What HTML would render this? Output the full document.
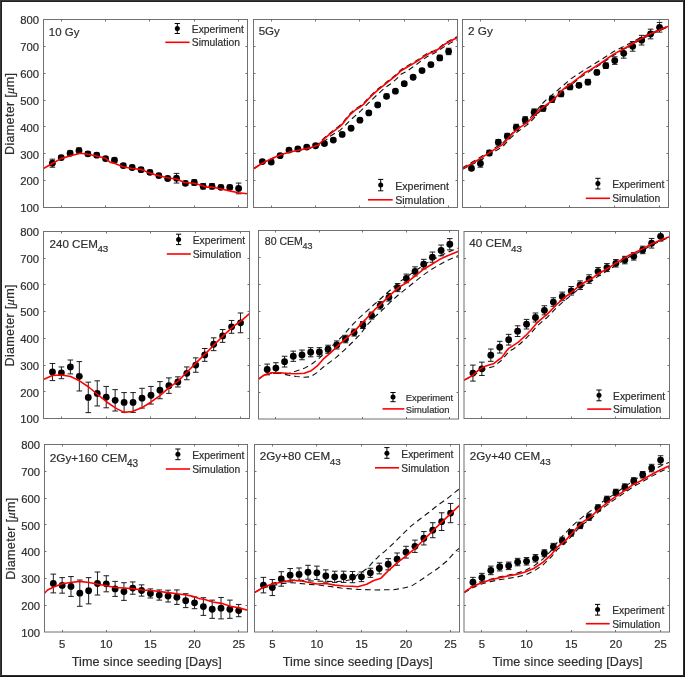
<!DOCTYPE html>
<html><head><meta charset="utf-8"><title>Tumour spheroid growth</title>
<style>
html,body{margin:0;padding:0;background:#fff;}
body{width:685px;height:677px;overflow:hidden;}
svg{display:block;will-change:transform;}
text{font-family:"Liberation Sans", sans-serif;fill:#2e2e2e;stroke:#2e2e2e;stroke-width:0.2px;}
</style></head><body>
<svg width="685" height="677" viewBox="0 0 685 677">
<rect x="0" y="0" width="685" height="677" fill="#fff"/>
<clipPath id="c0"><rect x="43.5" y="19" width="204" height="189"/></clipPath>
<path d="M61.5 207.5 V205.5 M61.5 19.5 V21.5 M105.5 207.5 V205.5 M105.5 19.5 V21.5 M149.5 207.5 V205.5 M149.5 19.5 V21.5 M194.5 207.5 V205.5 M194.5 19.5 V21.5 M238.5 207.5 V205.5 M238.5 19.5 V21.5 M43.5 180.5 H45.5 M247.5 180.5 H245.5 M43.5 153.5 H45.5 M247.5 153.5 H245.5 M43.5 126.5 H45.5 M247.5 126.5 H245.5 M43.5 100.5 H45.5 M247.5 100.5 H245.5 M43.5 73.5 H45.5 M247.5 73.5 H245.5 M43.5 46.5 H45.5 M247.5 46.5 H245.5" stroke="#707070" stroke-width="1" fill="none"/>
<g clip-path="url(#c0)">
<path d="M52.37 159.16 V167.21 M49.57 159.16 H55.17 M49.57 167.21 H55.17 M61.24 155.4 V159.69 M58.44 155.4 H64.04 M58.44 159.69 H64.04 M70.11 151.1 V155.4 M67.31 151.1 H72.91 M67.31 155.4 H72.91 M78.98 147.88 V153.25 M76.18 147.88 H81.78 M76.18 153.25 H81.78 M87.85 151.64 V155.93 M85.05 151.64 H90.65 M85.05 155.93 H90.65 M96.72 152.98 V157.28 M93.92 152.98 H99.52 M93.92 157.28 H99.52 M105.59 156.47 V160.77 M102.79 156.47 H108.39 M102.79 160.77 H108.39 M114.46 158.08 V162.38 M111.66 158.08 H117.26 M111.66 162.38 H117.26 M123.33 163.45 V167.75 M120.53 163.45 H126.13 M120.53 167.75 H126.13 M132.2 165.33 V169.63 M129.4 165.33 H135 M129.4 169.63 H135 M141.07 167.48 V171.78 M138.27 167.48 H143.87 M138.27 171.78 H143.87 M149.93 170.17 V174.47 M147.13 170.17 H152.73 M147.13 174.47 H152.73 M158.8 173.39 V177.69 M156 173.39 H161.6 M156 177.69 H161.6 M167.67 176.35 V180.64 M164.87 176.35 H170.47 M164.87 180.64 H170.47 M176.54 173.39 V183.06 M173.74 173.39 H179.34 M173.74 183.06 H179.34 M185.41 181.18 V185.48 M182.61 181.18 H188.21 M182.61 185.48 H188.21 M194.28 179.84 V185.21 M191.48 179.84 H197.08 M191.48 185.21 H197.08 M203.15 183.6 V188.97 M200.35 183.6 H205.95 M200.35 188.97 H205.95 M212.02 183.6 V188.97 M209.22 183.6 H214.82 M209.22 188.97 H214.82 M220.89 185.21 V189.51 M218.09 185.21 H223.69 M218.09 189.51 H223.69 M229.76 185.21 V189.51 M226.96 185.21 H232.56 M226.96 189.51 H232.56 M238.63 183.06 V193.8 M235.83 183.06 H241.43 M235.83 193.8 H241.43" stroke="#111" stroke-width="0.95" fill="none"/>
<circle cx="52.37" cy="163.19" r="3.4"/>
<circle cx="61.24" cy="157.55" r="3.4"/>
<circle cx="70.11" cy="153.25" r="3.4"/>
<circle cx="78.98" cy="150.56" r="3.4"/>
<circle cx="87.85" cy="153.79" r="3.4"/>
<circle cx="96.72" cy="155.13" r="3.4"/>
<circle cx="105.59" cy="158.62" r="3.4"/>
<circle cx="114.46" cy="160.23" r="3.4"/>
<circle cx="123.33" cy="165.6" r="3.4"/>
<circle cx="132.2" cy="167.48" r="3.4"/>
<circle cx="141.07" cy="169.63" r="3.4"/>
<circle cx="149.93" cy="172.32" r="3.4"/>
<circle cx="158.8" cy="175.54" r="3.4"/>
<circle cx="167.67" cy="178.49" r="3.4"/>
<circle cx="176.54" cy="178.23" r="3.4"/>
<circle cx="185.41" cy="183.33" r="3.4"/>
<circle cx="194.28" cy="182.52" r="3.4"/>
<circle cx="203.15" cy="186.28" r="3.4"/>
<circle cx="212.02" cy="186.28" r="3.4"/>
<circle cx="220.89" cy="187.36" r="3.4"/>
<circle cx="229.76" cy="187.36" r="3.4"/>
<circle cx="238.63" cy="188.43" r="3.4"/>
<path d="M43.5 168.56 L51.9 163.72 L60.9 158.62 L69.8 155.93 L78.5 153.79 L80.5 153.25 L87.8 154.32 L96.7 155.93 L105.5 158.35 L110.4 162.38 L114.3 163.19 L123 166.68 L131.9 168.56 L140.8 169.36 L149.9 173.12 L158.8 175.81 L167.5 177.69 L176.4 179.03 L184.4 182.52 L194 183.19 L202.8 185.75 L205.8 187.09 L211.7 187.09 L220.6 188.7 L229.6 190.85 L238.3 192.73 L247.5 193.8" stroke="#ff0000" stroke-width="1.6" fill="none" stroke-linejoin="round"/>
</g>
<text x="48.8" y="36.3" font-size="11.47">10 Gy</text>
<path d="M177.3 23.5 V33.5 M174.7 23.5 H179.9 M174.7 33.5 H179.9" stroke="#000" stroke-width="1" fill="none"/>
<circle cx="177.3" cy="28.4" r="2.5"/>
<path d="M165.3 42.3 H189.6" stroke="#ff0000" stroke-width="1.6"/>
<text x="191.8" y="32.9" font-size="10.3">Experiment</text>
<text x="191.8" y="46" font-size="10.3">Simulation</text>
<text x="39" y="212.3" font-size="11.3" text-anchor="end">100</text>
<text x="39" y="185.44" font-size="11.3" text-anchor="end">200</text>
<text x="39" y="158.59" font-size="11.3" text-anchor="end">300</text>
<text x="39" y="131.73" font-size="11.3" text-anchor="end">400</text>
<text x="39" y="104.87" font-size="11.3" text-anchor="end">500</text>
<text x="39" y="78.01" font-size="11.3" text-anchor="end">600</text>
<text x="39" y="51.16" font-size="11.3" text-anchor="end">700</text>
<text x="39" y="24.3" font-size="11.3" text-anchor="end">800</text>
<text transform="translate(14.3 155) rotate(-90)" font-size="12.6" textLength="82" lengthAdjust="spacing">Diameter [<tspan font-family="Liberation Serif" font-style="italic">&#956;</tspan>m]</text>
<rect x="43.5" y="19.5" width="204" height="188" fill="none" stroke="#707070" stroke-width="1"/>
<clipPath id="c1"><rect x="253.5" y="19" width="204" height="189"/></clipPath>
<path d="M271.5 207.5 V205.5 M271.5 19.5 V21.5 M315.5 207.5 V205.5 M315.5 19.5 V21.5 M359.5 207.5 V205.5 M359.5 19.5 V21.5 M404.5 207.5 V205.5 M404.5 19.5 V21.5 M448.5 207.5 V205.5 M448.5 19.5 V21.5 M253.5 180.5 H255.5 M457.5 180.5 H455.5 M253.5 153.5 H255.5 M457.5 153.5 H455.5 M253.5 126.5 H255.5 M457.5 126.5 H455.5 M253.5 100.5 H255.5 M457.5 100.5 H455.5 M253.5 73.5 H255.5 M457.5 73.5 H455.5 M253.5 46.5 H255.5 M457.5 46.5 H455.5" stroke="#707070" stroke-width="1" fill="none"/>
<g clip-path="url(#c1)">
<path d="M262.37 159.96 V163.19 M259.57 159.96 H265.17 M259.57 163.19 H265.17 M271.24 160.23 V163.99 M268.44 160.23 H274.04 M268.44 163.99 H274.04 M280.11 154.05 V157.28 M277.31 154.05 H282.91 M277.31 157.28 H282.91 M288.98 148.41 V151.64 M286.18 148.41 H291.78 M286.18 151.64 H291.78 M297.85 147.34 V150.56 M295.05 147.34 H300.65 M295.05 150.56 H300.65 M306.72 145.46 V148.68 M303.92 145.46 H309.52 M303.92 148.68 H309.52 M315.59 144.12 V147.34 M312.79 144.12 H318.39 M312.79 147.34 H318.39 M324.46 141.97 V145.19 M321.66 141.97 H327.26 M321.66 145.19 H327.26 M333.33 138.48 V141.7 M330.53 138.48 H336.13 M330.53 141.7 H336.13 M342.2 132.84 V136.06 M339.4 132.84 H345 M339.4 136.06 H345 M351.07 126.66 V129.88 M348.27 126.66 H353.87 M348.27 129.88 H353.87 M359.93 118.6 V121.83 M357.13 118.6 H362.73 M357.13 121.83 H362.73 M368.8 111.35 V114.57 M366 111.35 H371.6 M366 114.57 H371.6 M377.67 103.29 V106.52 M374.87 103.29 H380.47 M374.87 106.52 H380.47 M386.54 94.16 V98.46 M383.74 94.16 H389.34 M383.74 98.46 H389.34 M395.41 89.6 V92.82 M392.61 89.6 H398.21 M392.61 92.82 H398.21 M404.28 82.08 V85.3 M401.48 82.08 H407.08 M401.48 85.3 H407.08 M413.15 75.63 V78.85 M410.35 75.63 H415.95 M410.35 78.85 H415.95 M422.02 68.92 V72.14 M419.22 68.92 H424.82 M419.22 72.14 H424.82 M430.89 62.47 V66.77 M428.09 62.47 H433.69 M428.09 66.77 H433.69 M439.76 55.22 V60.59 M436.96 55.22 H442.56 M436.96 60.59 H442.56 M448.63 48.24 V54.68 M445.83 48.24 H451.43 M445.83 54.68 H451.43" stroke="#111" stroke-width="0.95" fill="none"/>
<circle cx="262.37" cy="161.57" r="3.4"/>
<circle cx="271.24" cy="162.11" r="3.4"/>
<circle cx="280.11" cy="155.67" r="3.4"/>
<circle cx="288.98" cy="150.03" r="3.4"/>
<circle cx="297.85" cy="148.95" r="3.4"/>
<circle cx="306.72" cy="147.07" r="3.4"/>
<circle cx="315.59" cy="145.73" r="3.4"/>
<circle cx="324.46" cy="143.58" r="3.4"/>
<circle cx="333.33" cy="140.09" r="3.4"/>
<circle cx="342.2" cy="134.45" r="3.4"/>
<circle cx="351.07" cy="128.27" r="3.4"/>
<circle cx="359.93" cy="120.21" r="3.4"/>
<circle cx="368.8" cy="112.96" r="3.4"/>
<circle cx="377.67" cy="104.91" r="3.4"/>
<circle cx="386.54" cy="96.31" r="3.4"/>
<circle cx="395.41" cy="91.21" r="3.4"/>
<circle cx="404.28" cy="83.69" r="3.4"/>
<circle cx="413.15" cy="77.24" r="3.4"/>
<circle cx="422.02" cy="70.53" r="3.4"/>
<circle cx="430.89" cy="64.62" r="3.4"/>
<circle cx="439.76" cy="57.91" r="3.4"/>
<circle cx="448.63" cy="51.46" r="3.4"/>
<path d="M253.5 168.83 L261.5 163.72 L271 158.89 L280.5 154.86 L290 151.91 L299.4 150.03 L309 148.15 L318.4 143.85 L325 137.13 L330.1 132.84 L335.2 129.08 L340.3 125.05 L343.4 121.83 L346.5 117.8 L350.5 113.23 L355.7 108.67 L359.7 106.25 L363.8 103.03 L367.9 98.46 L373 93.36 L378.1 88.79 L385 83.42 L390.5 78.85 L396 74.56 L401.4 69.45 L406.9 66.23 L412.4 63.01 L417.8 59.79 L423.3 56.03 L428.8 52.53 L434.3 50.65 L439.7 47.16 L445.2 42.87 L450.7 39.91 L457.5 36.42" stroke="#111" stroke-width="1.1" fill="none" stroke-dasharray="5.6 3.8"/>
<path d="M253.5 168.83 L261.5 163.72 L271 158.89 L280.5 154.86 L290 151.91 L299.4 150.03 L309 148.68 L318.4 145.73 L325 140.89 L330.1 136.33 L335.2 133.11 L340.3 130.15 L345.4 125.05 L350.5 119.95 L355.7 115.38 L360.8 110.81 L365.9 105.71 L371 100.61 L376.1 95.77 L381.2 91.21 L385 87.72 L390.5 83.96 L396 79.39 L401.4 74.02 L406.9 71.33 L412.4 67.31 L417.8 63.55 L423.3 59.25 L428.8 55.49 L434.3 53.34 L439.7 49.85 L445.2 46.09 L450.7 42.87 L457.5 39.64" stroke="#111" stroke-width="1.1" fill="none" stroke-dasharray="5.6 3.8"/>
<path d="M253.5 168.83 L261.5 163.72 L271 158.89 L280.5 154.86 L290 151.91 L299.4 150.03 L309 148.15 L318.4 144.92 L325 138.21 L330.1 133.91 L335.2 130.15 L340.3 126.12 L343.4 122.9 L346.5 118.87 L350.5 114.31 L355.7 109.74 L359.7 107.32 L363.8 104.1 L367.9 99.53 L373 94.43 L378.1 89.87 L385 84.49 L390.5 79.93 L396 75.63 L401.4 70.53 L406.9 67.31 L412.4 64.08 L417.8 60.86 L423.3 57.1 L428.8 53.61 L434.3 51.73 L439.7 48.24 L445.2 43.94 L450.7 40.99 L457.5 37.49" stroke="#ff0000" stroke-width="1.6" fill="none" stroke-linejoin="round"/>
</g>
<text x="258.7" y="35.1" font-size="11.57">5Gy</text>
<path d="M380.7 179.4 V190.8 M378.1 179.4 H383.3 M378.1 190.8 H383.3" stroke="#000" stroke-width="1" fill="none"/>
<circle cx="380.7" cy="185.1" r="2.5"/>
<path d="M368 199.8 H392.7" stroke="#ff0000" stroke-width="1.6"/>
<text x="395.2" y="189.8" font-size="10.61">Experiment</text>
<text x="395.2" y="204.1" font-size="10.61">Simulation</text>
<rect x="253.5" y="19.5" width="204" height="188" fill="none" stroke="#707070" stroke-width="1"/>
<clipPath id="c2"><rect x="462.5" y="19" width="206" height="189"/></clipPath>
<path d="M480.5 207.5 V205.5 M480.5 19.5 V21.5 M525.5 207.5 V205.5 M525.5 19.5 V21.5 M569.5 207.5 V205.5 M569.5 19.5 V21.5 M614.5 207.5 V205.5 M614.5 19.5 V21.5 M659.5 207.5 V205.5 M659.5 19.5 V21.5 M462.5 180.5 H464.5 M668.5 180.5 H666.5 M462.5 153.5 H464.5 M668.5 153.5 H666.5 M462.5 126.5 H464.5 M668.5 126.5 H666.5 M462.5 100.5 H464.5 M668.5 100.5 H666.5 M462.5 73.5 H464.5 M668.5 73.5 H666.5 M462.5 46.5 H464.5 M668.5 46.5 H666.5" stroke="#707070" stroke-width="1" fill="none"/>
<g clip-path="url(#c2)">
<path d="M471.46 166.14 V170.44 M468.66 166.14 H474.26 M468.66 170.44 H474.26 M480.41 159.69 V167.21 M477.61 159.69 H483.21 M477.61 167.21 H483.21 M489.37 150.29 V155.67 M486.57 150.29 H492.17 M486.57 155.67 H492.17 M498.33 139.55 V144.92 M495.53 139.55 H501.13 M495.53 144.92 H501.13 M507.28 133.37 V138.75 M504.48 133.37 H510.08 M504.48 138.75 H510.08 M516.24 124.24 V130.69 M513.44 124.24 H519.04 M513.44 130.69 H519.04 M525.2 116.72 V123.17 M522.4 116.72 H528 M522.4 123.17 H528 M534.15 108.93 V115.38 M531.35 108.93 H536.95 M531.35 115.38 H536.95 M543.11 105.71 V111.08 M540.31 105.71 H545.91 M540.31 111.08 H545.91 M552.07 96.04 V102.49 M549.27 96.04 H554.87 M549.27 102.49 H554.87 M561.02 91.21 V96.58 M558.22 91.21 H563.82 M558.22 96.58 H563.82 M569.98 84.23 V89.6 M567.18 84.23 H572.78 M567.18 89.6 H572.78 M578.93 83.15 V87.45 M576.13 83.15 H581.73 M576.13 87.45 H581.73 M587.89 79.39 V84.76 M585.09 79.39 H590.69 M585.09 84.76 H590.69 M596.85 70.26 V74.56 M594.05 70.26 H599.65 M594.05 74.56 H599.65 M605.8 63.01 V68.38 M603 63.01 H608.6 M603 68.38 H608.6 M614.76 56.83 V64.35 M611.96 56.83 H617.56 M611.96 64.35 H617.56 M623.72 48.51 V58.17 M620.92 48.51 H626.52 M620.92 58.17 H626.52 M632.67 41.52 V51.19 M629.87 41.52 H635.47 M629.87 51.19 H635.47 M641.63 35.35 V45.01 M638.83 35.35 H644.43 M638.83 45.01 H644.43 M650.59 29.17 V38.84 M647.79 29.17 H653.39 M647.79 38.84 H653.39 M659.54 22.45 V32.12 M656.74 22.45 H662.34 M656.74 32.12 H662.34" stroke="#111" stroke-width="0.95" fill="none"/>
<circle cx="471.46" cy="168.29" r="3.4"/>
<circle cx="480.41" cy="163.45" r="3.4"/>
<circle cx="489.37" cy="152.98" r="3.4"/>
<circle cx="498.33" cy="142.24" r="3.4"/>
<circle cx="507.28" cy="136.06" r="3.4"/>
<circle cx="516.24" cy="127.47" r="3.4"/>
<circle cx="525.2" cy="119.95" r="3.4"/>
<circle cx="534.15" cy="112.16" r="3.4"/>
<circle cx="543.11" cy="108.4" r="3.4"/>
<circle cx="552.07" cy="99.27" r="3.4"/>
<circle cx="561.02" cy="93.89" r="3.4"/>
<circle cx="569.98" cy="86.91" r="3.4"/>
<circle cx="578.93" cy="85.3" r="3.4"/>
<circle cx="587.89" cy="82.08" r="3.4"/>
<circle cx="596.85" cy="72.41" r="3.4"/>
<circle cx="605.8" cy="65.69" r="3.4"/>
<circle cx="614.76" cy="60.59" r="3.4"/>
<circle cx="623.72" cy="53.34" r="3.4"/>
<circle cx="632.67" cy="46.36" r="3.4"/>
<circle cx="641.63" cy="40.18" r="3.4"/>
<circle cx="650.59" cy="34" r="3.4"/>
<circle cx="659.54" cy="27.29" r="3.4"/>
<path d="M462.5 167.75 L478.4 158.35 L490.7 150.56 L502.9 142.77 L510.9 134.45 L522.7 124.24 L533.4 114.84 L540.5 105.44 L546.4 99.53 L552.3 94.7 L564.1 84.76 L570 79.39 L578.3 74.02 L584.2 69.99 L588.8 67.31 L601 59.79 L613.3 51.73 L625.5 45.55 L637.8 39.11 L650.1 33.47 L668.5 25.95" stroke="#111" stroke-width="1.1" fill="none" stroke-dasharray="5.6 3.8"/>
<path d="M462.5 169.36 L478.4 161.31 L490.7 153.79 L502.9 146.53 L510.9 137.67 L516.8 132.3 L522.7 128 L528.6 123.71 L533.4 118.87 L538.1 112.96 L542.8 108.93 L547.6 105.17 L552.3 101.68 L557 97.12 L561.7 91.75 L566.5 87.72 L571.2 84.76 L575.9 81 L580.6 77.24 L588.8 71.87 L601 64.08 L613.3 55.49 L625.5 48.77 L637.8 41.25 L650.1 34.81 L668.5 26.75" stroke="#111" stroke-width="1.1" fill="none" stroke-dasharray="5.6 3.8"/>
<path d="M462.5 168.83 L478.4 159.69 L490.7 151.91 L502.9 144.39 L510.9 135.25 L516.8 129.61 L522.7 125.59 L528.6 121.29 L533.4 116.72 L538.1 110.81 L542.8 107.32 L547.6 103.83 L552.3 100.61 L557 96.04 L561.7 90.67 L566.5 86.64 L571.2 83.69 L575.9 79.93 L580.6 76.44 L585 72.41 L588.8 70.8 L601 63.01 L613.3 54.41 L625.5 47.7 L637.8 40.45 L650.1 34 L668.5 26.21" stroke="#ff0000" stroke-width="1.6" fill="none" stroke-linejoin="round"/>
</g>
<text x="468" y="34.5" font-size="11.77">2 Gy</text>
<path d="M597.9 178.3 V189 M595.3 178.3 H600.5 M595.3 189 H600.5" stroke="#000" stroke-width="1" fill="none"/>
<circle cx="597.9" cy="183.6" r="2.5"/>
<path d="M585.8 198.3 H610" stroke="#ff0000" stroke-width="1.6"/>
<text x="612.2" y="188.4" font-size="10.3">Experiment</text>
<text x="612.2" y="202.3" font-size="10.3">Simulation</text>
<rect x="462.5" y="19.5" width="206" height="188" fill="none" stroke="#707070" stroke-width="1"/>
<clipPath id="c3"><rect x="43.5" y="231" width="206" height="188"/></clipPath>
<path d="M61.5 418.5 V416.5 M61.5 231.5 V233.5 M106.5 418.5 V416.5 M106.5 231.5 V233.5 M150.5 418.5 V416.5 M150.5 231.5 V233.5 M195.5 418.5 V416.5 M195.5 231.5 V233.5 M240.5 418.5 V416.5 M240.5 231.5 V233.5 M43.5 391.5 H45.5 M249.5 391.5 H247.5 M43.5 365.5 H45.5 M249.5 365.5 H247.5 M43.5 338.5 H45.5 M249.5 338.5 H247.5 M43.5 311.5 H45.5 M249.5 311.5 H247.5 M43.5 284.5 H45.5 M249.5 284.5 H247.5 M43.5 258.5 H45.5 M249.5 258.5 H247.5" stroke="#707070" stroke-width="1" fill="none"/>
<g clip-path="url(#c3)">
<path d="M52.46 363.47 V380.57 M49.66 363.47 H55.26 M49.66 380.57 H55.26 M61.41 366.94 V378.7 M58.61 366.94 H64.21 M58.61 378.7 H64.21 M70.37 360 V373.89 M67.57 360 H73.17 M67.57 373.89 H73.17 M79.33 361.6 V390.98 M76.53 361.6 H82.13 M76.53 390.98 H82.13 M88.28 382.17 V412.62 M85.48 382.17 H91.08 M85.48 412.62 H91.08 M97.24 380.83 V405.94 M94.44 380.83 H100.04 M94.44 405.94 H100.04 M106.2 386.44 V407.81 M103.4 386.44 H109 M103.4 407.81 H109 M115.15 389.65 V411.02 M112.35 389.65 H117.95 M112.35 411.02 H117.95 M124.11 392.59 V412.36 M121.31 392.59 H126.91 M121.31 412.36 H126.91 M133.07 392.59 V412.36 M130.27 392.59 H135.87 M130.27 412.36 H135.87 M142.02 388.31 V408.08 M139.22 388.31 H144.82 M139.22 408.08 H144.82 M150.98 386.44 V404.07 M148.18 386.44 H153.78 M148.18 404.07 H153.78 M159.93 381.63 V398.73 M157.13 381.63 H162.73 M157.13 398.73 H162.73 M168.89 377.89 V393.39 M166.09 377.89 H171.69 M166.09 393.39 H171.69 M177.85 376.83 V386.98 M175.05 376.83 H180.65 M175.05 386.98 H180.65 M186.8 366.94 V379.76 M184 366.94 H189.6 M184 379.76 H189.6 M195.76 357.86 V372.28 M192.96 357.86 H198.56 M192.96 372.28 H198.56 M204.72 348.51 V361.33 M201.92 348.51 H207.52 M201.92 361.33 H207.52 M213.67 337.82 V350.65 M210.87 337.82 H216.47 M210.87 350.65 H216.47 M222.63 329.54 V342.36 M219.83 329.54 H225.43 M219.83 342.36 H225.43 M231.59 320.46 V333.28 M228.79 320.46 H234.39 M228.79 333.28 H234.39 M240.54 312.98 V332.75 M237.74 312.98 H243.34 M237.74 332.75 H243.34" stroke="#111" stroke-width="0.95" fill="none"/>
<circle cx="52.46" cy="372.02" r="3.4"/>
<circle cx="61.41" cy="372.82" r="3.4"/>
<circle cx="70.37" cy="366.94" r="3.4"/>
<circle cx="79.33" cy="376.29" r="3.4"/>
<circle cx="88.28" cy="397.4" r="3.4"/>
<circle cx="97.24" cy="393.39" r="3.4"/>
<circle cx="106.2" cy="397.13" r="3.4"/>
<circle cx="115.15" cy="400.33" r="3.4"/>
<circle cx="124.11" cy="402.47" r="3.4"/>
<circle cx="133.07" cy="402.47" r="3.4"/>
<circle cx="142.02" cy="398.2" r="3.4"/>
<circle cx="150.98" cy="395.26" r="3.4"/>
<circle cx="159.93" cy="390.18" r="3.4"/>
<circle cx="168.89" cy="385.64" r="3.4"/>
<circle cx="177.85" cy="381.9" r="3.4"/>
<circle cx="186.8" cy="373.35" r="3.4"/>
<circle cx="195.76" cy="365.07" r="3.4"/>
<circle cx="204.72" cy="354.92" r="3.4"/>
<circle cx="213.67" cy="344.23" r="3.4"/>
<circle cx="222.63" cy="335.95" r="3.4"/>
<circle cx="231.59" cy="326.87" r="3.4"/>
<circle cx="240.54" cy="322.86" r="3.4"/>
<path d="M43.5 379.5 L52.3 375.49 L61.5 374.96 L70.7 376.56 L79.9 381.1 L89 387.24 L98.2 394.99 L107.4 402.47 L116.6 408.62 L124.3 412.36 L132 411.55 L141.2 408.08 L150.4 402.47 L159.6 395.79 L168.8 387.78 L178 381.1 L187.1 372.02 L196.3 362.67 L205.5 353.58 L214.7 344.23 L223.9 335.15 L233.1 326.6 L242.3 319.92 L249.5 313.51" stroke="#ff0000" stroke-width="1.6" fill="none" stroke-linejoin="round"/>
</g>
<text x="49.6" y="247.5" font-size="11.57">240 CEM<tspan dx="-0.4" dy="4.86" font-size="9.84">43</tspan></text>
<path d="M178.6 234.2 V244.6 M176 234.2 H181.2 M176 244.6 H181.2" stroke="#000" stroke-width="1" fill="none"/>
<circle cx="178.6" cy="239.6" r="2.5"/>
<path d="M166.8 254 H190.8" stroke="#ff0000" stroke-width="1.6"/>
<text x="192.7" y="243.9" font-size="10.4">Experiment</text>
<text x="192.7" y="257.8" font-size="10.4">Simulation</text>
<text x="39" y="423.3" font-size="11.3" text-anchor="end">100</text>
<text x="39" y="396.59" font-size="11.3" text-anchor="end">200</text>
<text x="39" y="369.87" font-size="11.3" text-anchor="end">300</text>
<text x="39" y="343.16" font-size="11.3" text-anchor="end">400</text>
<text x="39" y="316.44" font-size="11.3" text-anchor="end">500</text>
<text x="39" y="289.73" font-size="11.3" text-anchor="end">600</text>
<text x="39" y="263.01" font-size="11.3" text-anchor="end">700</text>
<text x="39" y="236.3" font-size="11.3" text-anchor="end">800</text>
<text transform="translate(14.3 366.5) rotate(-90)" font-size="12.6" textLength="82" lengthAdjust="spacing">Diameter [<tspan font-family="Liberation Serif" font-style="italic">&#956;</tspan>m]</text>
<rect x="43.5" y="231.5" width="206" height="187" fill="none" stroke="#707070" stroke-width="1"/>
<clipPath id="c4"><rect x="258.5" y="230" width="200" height="189.5"/></clipPath>
<path d="M275.5 419 V417 M275.5 230.5 V232.5 M319.5 419 V417 M319.5 230.5 V232.5 M362.5 419 V417 M362.5 230.5 V232.5 M406.5 419 V417 M406.5 230.5 V232.5 M449.5 419 V417 M449.5 230.5 V232.5 M258.5 392.5 H260.5 M458.5 392.5 H456.5 M258.5 365.5 H260.5 M458.5 365.5 H456.5 M258.5 338.5 H260.5 M458.5 338.5 H456.5 M258.5 311.5 H260.5 M458.5 311.5 H456.5 M258.5 284.5 H260.5 M458.5 284.5 H456.5 M258.5 257.5 H260.5 M458.5 257.5 H456.5" stroke="#707070" stroke-width="1" fill="none"/>
<g clip-path="url(#c4)">
<path d="M267.2 364.07 V374.84 M264.4 364.07 H270 M264.4 374.84 H270 M275.89 362.72 V373.49 M273.09 362.72 H278.69 M273.09 373.49 H278.69 M284.59 356.26 V367.03 M281.79 356.26 H287.39 M281.79 367.03 H287.39 M293.28 351.14 V361.37 M290.48 351.14 H296.08 M290.48 361.37 H296.08 M301.98 350.06 V359.76 M299.18 350.06 H304.78 M299.18 359.76 H304.78 M310.67 347.64 V356.8 M307.87 347.64 H313.47 M307.87 356.8 H313.47 M319.37 347.64 V356.26 M316.57 347.64 H322.17 M316.57 356.26 H322.17 M328.07 345.22 V353.29 M325.27 345.22 H330.87 M325.27 353.29 H330.87 M336.76 340.91 V348.99 M333.96 340.91 H339.56 M333.96 348.99 H339.56 M345.46 335.25 V342.79 M342.66 335.25 H348.26 M342.66 342.79 H348.26 M354.15 329.06 V336.06 M351.35 329.06 H356.95 M351.35 336.06 H356.95 M362.85 321.52 V328.52 M360.05 321.52 H365.65 M360.05 328.52 H365.65 M371.54 312.09 V319.1 M368.74 312.09 H374.34 M368.74 319.1 H374.34 M380.24 301.59 V309.13 M377.44 301.59 H383.04 M377.44 309.13 H383.04 M388.93 293.51 V301.05 M386.13 293.51 H391.73 M386.13 301.05 H391.73 M397.63 283.55 V291.63 M394.83 283.55 H400.43 M394.83 291.63 H400.43 M406.33 274.12 V282.74 M403.53 274.12 H409.13 M403.53 282.74 H409.13 M415.02 266.85 V276.01 M412.22 266.85 H417.82 M412.22 276.01 H417.82 M423.72 259.31 V269.01 M420.92 259.31 H426.52 M420.92 269.01 H426.52 M432.41 252.04 V262.28 M429.61 252.04 H435.21 M429.61 262.28 H435.21 M441.11 245.04 V255.81 M438.31 245.04 H443.91 M438.31 255.81 H443.91 M449.8 238.58 V249.89 M447 238.58 H452.6 M447 249.89 H452.6" stroke="#111" stroke-width="0.95" fill="none"/>
<circle cx="267.2" cy="369.45" r="3.4"/>
<circle cx="275.89" cy="368.11" r="3.4"/>
<circle cx="284.59" cy="361.64" r="3.4"/>
<circle cx="293.28" cy="356.26" r="3.4"/>
<circle cx="301.98" cy="354.91" r="3.4"/>
<circle cx="310.67" cy="352.22" r="3.4"/>
<circle cx="319.37" cy="351.95" r="3.4"/>
<circle cx="328.07" cy="349.25" r="3.4"/>
<circle cx="336.76" cy="344.95" r="3.4"/>
<circle cx="345.46" cy="339.02" r="3.4"/>
<circle cx="354.15" cy="332.56" r="3.4"/>
<circle cx="362.85" cy="325.02" r="3.4"/>
<circle cx="371.54" cy="315.59" r="3.4"/>
<circle cx="380.24" cy="305.36" r="3.4"/>
<circle cx="388.93" cy="297.28" r="3.4"/>
<circle cx="397.63" cy="287.59" r="3.4"/>
<circle cx="406.33" cy="278.43" r="3.4"/>
<circle cx="415.02" cy="271.43" r="3.4"/>
<circle cx="423.72" cy="264.16" r="3.4"/>
<circle cx="432.41" cy="257.16" r="3.4"/>
<circle cx="441.11" cy="250.43" r="3.4"/>
<circle cx="449.8" cy="244.23" r="3.4"/>
<path d="M258.5 379.15 L264 375.11 L272.1 372.68 L280.1 372.95 L288.1 373.49 L296.1 371.07 L304.2 368.37 L312.2 363.8 L320.2 357.33 L328.3 349.25 L336.3 342.25 L344.3 334.18 L350 327.44 L358.1 318.83 L366.2 311.56 L374.4 304.28 L382.5 297.01 L390.6 289.74 L398.7 282.47 L406.9 276.82 L415 271.16 L423.1 265.51 L431.2 260.39 L439.4 256.35 L447.5 252.31 L458.5 248" stroke="#111" stroke-width="1.1" fill="none" stroke-dasharray="5.6 3.8"/>
<path d="M258.5 379.15 L264 375.11 L272.1 372.95 L280.1 373.22 L288.1 375.11 L296.1 376.45 L304.2 377.26 L310.6 376.72 L317 372.68 L323.4 367.03 L329.9 362.18 L336.3 357.33 L344.3 350.06 L352.4 342.25 L360.4 334.18 L366.2 326.1 L374.4 317.21 L382.5 309.94 L390.6 301.86 L398.7 294.59 L406.9 288.13 L415 281.66 L423.1 275.2 L431.2 269.55 L439.4 264.7 L447.5 260.39 L458.5 255.54" stroke="#111" stroke-width="1.1" fill="none" stroke-dasharray="5.6 3.8"/>
<path d="M258.5 379.15 L264 375.11 L272.1 372.68 L280.1 372.68 L288.1 373.49 L296.1 373.76 L304.2 373.22 L310.6 371.07 L317 366.22 L323.4 358.95 L329.9 353.29 L336.3 347.37 L342.7 341.45 L349.1 335.79 L355.6 330.14 L362 322.87 L366.2 318.83 L374.4 309.94 L382.5 302.67 L390.6 294.59 L398.7 287.32 L406.9 282.47 L415 276.01 L423.1 269.55 L431.2 264.7 L439.4 259.58 L447.5 255.81 L458.5 251.24" stroke="#ff0000" stroke-width="1.6" fill="none" stroke-linejoin="round"/>
</g>
<text x="264.8" y="244.6" font-size="10.56">80 CEM<tspan dx="-0.4" dy="4.43" font-size="8.97">43</tspan></text>
<path d="M393 392.5 V401.7 M390.4 392.5 H395.6 M390.4 401.7 H395.6" stroke="#000" stroke-width="1" fill="none"/>
<circle cx="393" cy="397.1" r="2.5"/>
<path d="M382.5 408.9 H404.4" stroke="#ff0000" stroke-width="1.6"/>
<text x="405.7" y="401" font-size="9.39">Experiment</text>
<text x="405.7" y="413.3" font-size="9.39">Simulation</text>
<rect x="258.5" y="230.5" width="200" height="188.5" fill="none" stroke="#707070" stroke-width="1"/>
<clipPath id="c5"><rect x="464" y="231" width="205.5" height="188"/></clipPath>
<path d="M481.5 418.5 V416.5 M481.5 231.5 V233.5 M526.5 418.5 V416.5 M526.5 231.5 V233.5 M571.5 418.5 V416.5 M571.5 231.5 V233.5 M615.5 418.5 V416.5 M615.5 231.5 V233.5 M660.5 418.5 V416.5 M660.5 231.5 V233.5 M464 391.5 H466 M669.5 391.5 H667.5 M464 365.5 H466 M669.5 365.5 H667.5 M464 338.5 H466 M669.5 338.5 H667.5 M464 311.5 H466 M669.5 311.5 H667.5 M464 284.5 H466 M669.5 284.5 H667.5 M464 258.5 H466 M669.5 258.5 H667.5" stroke="#707070" stroke-width="1" fill="none"/>
<g clip-path="url(#c5)">
<path d="M472.93 365.07 V381.1 M470.13 365.07 H475.73 M470.13 381.1 H475.73 M481.87 362.13 V375.49 M479.07 362.13 H484.67 M479.07 375.49 H484.67 M490.8 349.04 V361.33 M488 349.04 H493.6 M488 361.33 H493.6 M499.74 341.3 V353.05 M496.94 341.3 H502.54 M496.94 353.05 H502.54 M508.67 334.35 V345.04 M505.87 334.35 H511.47 M505.87 345.04 H511.47 M517.61 325.8 V336.49 M514.81 325.8 H520.41 M514.81 336.49 H520.41 M526.54 319.39 V329.01 M523.74 319.39 H529.34 M523.74 329.01 H529.34 M535.48 312.98 V322.06 M532.68 312.98 H538.28 M532.68 322.06 H538.28 M544.41 305.77 V314.85 M541.61 305.77 H547.21 M541.61 314.85 H547.21 M553.35 297.75 V306.3 M550.55 297.75 H556.15 M550.55 306.3 H556.15 M562.28 292.14 V300.69 M559.48 292.14 H565.08 M559.48 300.69 H565.08 M571.22 286.53 V295.08 M568.42 286.53 H574.02 M568.42 295.08 H574.02 M580.15 280.92 V289.47 M577.35 280.92 H582.95 M577.35 289.47 H582.95 M589.09 274.78 V283.33 M586.29 274.78 H591.89 M586.29 283.33 H591.89 M598.02 267.56 V275.58 M595.22 267.56 H600.82 M595.22 275.58 H600.82 M606.96 263.56 V271.57 M604.16 263.56 H609.76 M604.16 271.57 H609.76 M615.89 259.55 V267.03 M613.09 259.55 H618.69 M613.09 267.03 H618.69 M624.83 256.34 V263.82 M622.03 256.34 H627.63 M622.03 263.82 H627.63 M633.76 252.6 V260.08 M630.96 252.6 H636.56 M630.96 260.08 H636.56 M642.7 246.19 V253.67 M639.9 246.19 H645.5 M639.9 253.67 H645.5 M651.63 238.45 V248.06 M648.83 238.45 H654.43 M648.83 248.06 H654.43 M660.57 231.5 V241.12 M657.77 231.5 H663.37 M657.77 241.12 H663.37" stroke="#111" stroke-width="0.95" fill="none"/>
<circle cx="472.93" cy="373.09" r="3.4"/>
<circle cx="481.87" cy="368.81" r="3.4"/>
<circle cx="490.8" cy="355.19" r="3.4"/>
<circle cx="499.74" cy="347.17" r="3.4"/>
<circle cx="508.67" cy="339.69" r="3.4"/>
<circle cx="517.61" cy="331.14" r="3.4"/>
<circle cx="526.54" cy="324.2" r="3.4"/>
<circle cx="535.48" cy="317.52" r="3.4"/>
<circle cx="544.41" cy="310.31" r="3.4"/>
<circle cx="553.35" cy="302.03" r="3.4"/>
<circle cx="562.28" cy="296.42" r="3.4"/>
<circle cx="571.22" cy="290.81" r="3.4"/>
<circle cx="580.15" cy="285.2" r="3.4"/>
<circle cx="589.09" cy="279.05" r="3.4"/>
<circle cx="598.02" cy="271.57" r="3.4"/>
<circle cx="606.96" cy="267.56" r="3.4"/>
<circle cx="615.89" cy="263.29" r="3.4"/>
<circle cx="624.83" cy="260.08" r="3.4"/>
<circle cx="633.76" cy="256.34" r="3.4"/>
<circle cx="642.7" cy="249.93" r="3.4"/>
<circle cx="651.63" cy="243.25" r="3.4"/>
<circle cx="660.57" cy="236.31" r="3.4"/>
<path d="M464 380.3 L472.7 376.02 L481.6 370.31 L487.7 368.2 L493.6 366.41 L500.7 361.06 L505.5 355.72 L509 351.45 L513.7 348.78 L519.6 344.23 L525.5 338.89 L531.4 332.75 L536.2 326.87 L540.9 322.6 L546.8 317.79 L550 314.58 L555.9 308.33 L561.8 302.88 L567.7 297.97 L573.6 293.32 L579.5 288.4 L585.5 284.29 L591.4 281.24 L597.3 276.86 L603.2 273.31 L609.1 269.73 L615 265.61 L620.9 262.03 L626.8 258.45 L630 256.53 L636 253.75 L642.6 250.39 L651.5 245.26 L660.7 240.9 L669.5 237.4" stroke="#111" stroke-width="1.1" fill="none" stroke-dasharray="5.6 3.8"/>
<path d="M464 380.03 L472.7 375.49 L478 370.68 L483.9 366.67 L489.8 364.8 L494 363.47 L497.5 360.53 L501.6 357.73 L504 354.52 L506.4 351.05 L508.7 348.38 L513.5 345.3 L518 342.36 L519.6 341.03 L525.5 335.69 L531.4 329.54 L536.2 323.66 L540.9 319.39 L546.8 314.58 L550 311.38 L555.9 305.23 L561.8 299.89 L567.7 295.08 L573.6 290.54 L579.5 285.73 L585.5 281.72 L591.4 278.78 L597.3 274.51 L603.2 271.04 L609.1 267.56 L615 263.56 L620.9 260.08 L626.8 256.61 L630 254.74 L636 252.07 L642.6 248.86 L651.5 244.06 L660.7 240.05 L669.5 236.84" stroke="#ff0000" stroke-width="1.6" fill="none" stroke-linejoin="round"/>
</g>
<text x="469.3" y="247" font-size="11.67">40 CEM<tspan dx="-0.4" dy="4.9" font-size="9.92">43</tspan></text>
<path d="M599 390 V400.8 M596.4 390 H601.6 M596.4 400.8 H601.6" stroke="#000" stroke-width="1" fill="none"/>
<circle cx="599" cy="395.3" r="2.5"/>
<path d="M587.2 409.1 H611.3" stroke="#ff0000" stroke-width="1.6"/>
<text x="613.1" y="399.8" font-size="10.3">Experiment</text>
<text x="613.1" y="413.3" font-size="10.3">Simulation</text>
<rect x="464" y="231.5" width="205.5" height="187" fill="none" stroke="#707070" stroke-width="1"/>
<clipPath id="c6"><rect x="44.5" y="444" width="203" height="188.5"/></clipPath>
<path d="M62.5 632 V630 M62.5 444.5 V446.5 M106.5 632 V630 M106.5 444.5 V446.5 M150.5 632 V630 M150.5 444.5 V446.5 M194.5 632 V630 M194.5 444.5 V446.5 M238.5 632 V630 M238.5 444.5 V446.5 M44.5 605.5 H46.5 M247.5 605.5 H245.5 M44.5 578.5 H46.5 M247.5 578.5 H245.5 M44.5 551.5 H46.5 M247.5 551.5 H245.5 M44.5 524.5 H46.5 M247.5 524.5 H245.5 M44.5 498.5 H46.5 M247.5 498.5 H245.5 M44.5 471.5 H46.5 M247.5 471.5 H245.5" stroke="#707070" stroke-width="1" fill="none"/>
<g clip-path="url(#c6)">
<path d="M53.33 574.14 V592.89 M50.53 574.14 H56.13 M50.53 592.89 H56.13 M62.15 577.62 V593.16 M59.35 577.62 H64.95 M59.35 593.16 H64.95 M70.98 576.55 V596.38 M68.18 576.55 H73.78 M68.18 596.38 H73.78 M79.8 580.04 V606.29 M77 580.04 H82.6 M77 606.29 H82.6 M88.63 577.62 V603.88 M85.83 577.62 H91.43 M85.83 603.88 H91.43 M97.46 572 V595.04 M94.66 572 H100.26 M94.66 595.04 H100.26 M106.28 575.75 V591.82 M103.48 575.75 H109.08 M103.48 591.82 H109.08 M115.11 581.38 V596.38 M112.31 581.38 H117.91 M112.31 596.38 H117.91 M123.93 582.71 V600.39 M121.13 582.71 H126.73 M121.13 600.39 H126.73 M132.76 581.91 V594.23 M129.96 581.91 H135.56 M129.96 594.23 H135.56 M141.59 584.86 V596.11 M138.79 584.86 H144.39 M138.79 596.11 H144.39 M150.41 588.88 V597.98 M147.61 588.88 H153.21 M147.61 597.98 H153.21 M159.24 589.95 V600.12 M156.44 589.95 H162.04 M156.44 600.12 H162.04 M168.07 590.21 V602 M165.27 590.21 H170.87 M165.27 602 H170.87 M176.89 589.95 V604.41 M174.09 589.95 H179.69 M174.09 604.41 H179.69 M185.72 593.7 V607.62 M182.92 593.7 H188.52 M182.92 607.62 H188.52 M194.54 596.91 V608.7 M191.74 596.91 H197.34 M191.74 608.7 H197.34 M203.37 597.71 V615.39 M200.57 597.71 H206.17 M200.57 615.39 H206.17 M212.2 600.12 V618.34 M209.4 600.12 H215 M209.4 618.34 H215 M221.02 597.45 V618.88 M218.22 597.45 H223.82 M218.22 618.88 H223.82 M229.85 600.12 V618.34 M227.05 600.12 H232.65 M227.05 618.34 H232.65 M238.67 604.41 V616.73 M235.87 604.41 H241.47 M235.87 616.73 H241.47" stroke="#111" stroke-width="0.95" fill="none"/>
<circle cx="53.33" cy="583.52" r="3.4"/>
<circle cx="62.15" cy="585.39" r="3.4"/>
<circle cx="70.98" cy="586.46" r="3.4"/>
<circle cx="79.8" cy="593.16" r="3.4"/>
<circle cx="88.63" cy="590.75" r="3.4"/>
<circle cx="97.46" cy="583.52" r="3.4"/>
<circle cx="106.28" cy="583.79" r="3.4"/>
<circle cx="115.11" cy="588.88" r="3.4"/>
<circle cx="123.93" cy="591.55" r="3.4"/>
<circle cx="132.76" cy="588.07" r="3.4"/>
<circle cx="141.59" cy="590.48" r="3.4"/>
<circle cx="150.41" cy="593.43" r="3.4"/>
<circle cx="159.24" cy="595.04" r="3.4"/>
<circle cx="168.07" cy="596.11" r="3.4"/>
<circle cx="176.89" cy="597.18" r="3.4"/>
<circle cx="185.72" cy="600.66" r="3.4"/>
<circle cx="194.54" cy="602.8" r="3.4"/>
<circle cx="203.37" cy="606.55" r="3.4"/>
<circle cx="212.2" cy="609.23" r="3.4"/>
<circle cx="221.02" cy="608.16" r="3.4"/>
<circle cx="229.85" cy="609.23" r="3.4"/>
<circle cx="238.67" cy="610.57" r="3.4"/>
<path d="M44.5 593.16 L47.6 589.95 L53.7 587 L62.2 583.79 L70.6 582.45 L79.8 581.38 L89 582.45 L98.2 584.32 L107.4 585.93 L115 587.54 L124.2 588.07 L133.4 588.88 L142.6 589.95 L150.7 590.48 L159.4 591.55 L168.3 592.62 L177 593.7 L186.2 595.04 L192 596.11 L199.7 598.79 L204 599.32 L212.7 602 L221.5 603.34 L230.4 606.29 L239.3 607.89 L247.5 610.3" stroke="#ff0000" stroke-width="1.6" fill="none" stroke-linejoin="round"/>
</g>
<text x="49.8" y="462.1" font-size="11.77">2Gy+160 CEM<tspan dx="-0.4" dy="4.95" font-size="10.01">43</tspan></text>
<path d="M177.9 449 V459.7 M175.3 449 H180.5 M175.3 459.7 H180.5" stroke="#000" stroke-width="1" fill="none"/>
<circle cx="177.9" cy="454.3" r="2.5"/>
<path d="M165.8 469 H190" stroke="#ff0000" stroke-width="1.6"/>
<text x="192.2" y="459.1" font-size="10.3">Experiment</text>
<text x="192.2" y="473" font-size="10.3">Simulation</text>
<text x="40" y="636.8" font-size="11.3" text-anchor="end">100</text>
<text x="40" y="610.01" font-size="11.3" text-anchor="end">200</text>
<text x="40" y="583.23" font-size="11.3" text-anchor="end">300</text>
<text x="40" y="556.44" font-size="11.3" text-anchor="end">400</text>
<text x="40" y="529.66" font-size="11.3" text-anchor="end">500</text>
<text x="40" y="502.87" font-size="11.3" text-anchor="end">600</text>
<text x="40" y="476.09" font-size="11.3" text-anchor="end">700</text>
<text x="40" y="449.3" font-size="11.3" text-anchor="end">800</text>
<text transform="translate(15.3 579.75) rotate(-90)" font-size="12.6" textLength="82" lengthAdjust="spacing">Diameter [<tspan font-family="Liberation Serif" font-style="italic">&#956;</tspan>m]</text>
<text x="62.15" y="648.4" font-size="11.3" text-anchor="middle">5</text>
<text x="106.28" y="648.4" font-size="11.3" text-anchor="middle">10</text>
<text x="150.41" y="648.4" font-size="11.3" text-anchor="middle">15</text>
<text x="194.54" y="648.4" font-size="11.3" text-anchor="middle">20</text>
<text x="238.67" y="648.4" font-size="11.3" text-anchor="middle">25</text>
<text x="146.7" y="666.1" font-size="12.6" text-anchor="middle" textLength="150" lengthAdjust="spacing">Time since seeding [Days]</text>
<rect x="44.5" y="444.5" width="203" height="187.5" fill="none" stroke="#707070" stroke-width="1"/>
<clipPath id="c7"><rect x="254.5" y="444" width="205" height="188.5"/></clipPath>
<path d="M272.5 632 V630 M272.5 444.5 V446.5 M316.5 632 V630 M316.5 444.5 V446.5 M361.5 632 V630 M361.5 444.5 V446.5 M406.5 632 V630 M406.5 444.5 V446.5 M450.5 632 V630 M450.5 444.5 V446.5 M254.5 605.5 H256.5 M459.5 605.5 H457.5 M254.5 578.5 H256.5 M459.5 578.5 H457.5 M254.5 551.5 H256.5 M459.5 551.5 H457.5 M254.5 524.5 H256.5 M459.5 524.5 H457.5 M254.5 498.5 H256.5 M459.5 498.5 H457.5 M254.5 471.5 H256.5 M459.5 471.5 H457.5" stroke="#707070" stroke-width="1" fill="none"/>
<g clip-path="url(#c7)">
<path d="M263.41 577.36 V592.89 M260.61 577.36 H266.21 M260.61 592.89 H266.21 M272.33 579.5 V595.57 M269.53 579.5 H275.13 M269.53 595.57 H275.13 M281.24 571.73 V586.2 M278.44 571.73 H284.04 M278.44 586.2 H284.04 M290.15 568.52 V581.91 M287.35 568.52 H292.95 M287.35 581.91 H292.95 M299.07 567.98 V580.84 M296.27 567.98 H301.87 M296.27 580.84 H301.87 M307.98 565.3 V579.23 M305.18 565.3 H310.78 M305.18 579.23 H310.78 M316.89 566.11 V579.5 M314.09 566.11 H319.69 M314.09 579.5 H319.69 M325.8 569.86 V582.18 M323 569.86 H328.6 M323 582.18 H328.6 M334.72 571.2 V582.45 M331.92 571.2 H337.52 M331.92 582.45 H337.52 M343.63 571.2 V582.45 M340.83 571.2 H346.43 M340.83 582.45 H346.43 M352.54 571.46 V582.71 M349.74 571.46 H355.34 M349.74 582.71 H355.34 M361.46 572 V581.64 M358.66 572 H364.26 M358.66 581.64 H364.26 M370.37 568.25 V577.36 M367.57 568.25 H373.17 M367.57 577.36 H373.17 M379.28 563.16 V573.88 M376.48 563.16 H382.08 M376.48 573.88 H382.08 M388.2 558.61 V569.86 M385.4 558.61 H391 M385.4 569.86 H391 M397.11 552.98 V565.3 M394.31 552.98 H399.91 M394.31 565.3 H399.91 M406.02 546.29 V558.07 M403.22 546.29 H408.82 M403.22 558.07 H408.82 M414.93 540.12 V552.45 M412.13 540.12 H417.73 M412.13 552.45 H417.73 M423.85 531.55 V544.95 M421.05 531.55 H426.65 M421.05 544.95 H426.65 M432.76 522.71 V537.71 M429.96 522.71 H435.56 M429.96 537.71 H435.56 M441.67 512.8 V530.48 M438.87 512.8 H444.47 M438.87 530.48 H444.47 M450.59 503.43 V522.71 M447.79 503.43 H453.39 M447.79 522.71 H453.39" stroke="#111" stroke-width="0.95" fill="none"/>
<circle cx="263.41" cy="585.12" r="3.4"/>
<circle cx="272.33" cy="587.54" r="3.4"/>
<circle cx="281.24" cy="578.96" r="3.4"/>
<circle cx="290.15" cy="575.21" r="3.4"/>
<circle cx="299.07" cy="574.41" r="3.4"/>
<circle cx="307.98" cy="572.27" r="3.4"/>
<circle cx="316.89" cy="572.8" r="3.4"/>
<circle cx="325.8" cy="576.02" r="3.4"/>
<circle cx="334.72" cy="576.82" r="3.4"/>
<circle cx="343.63" cy="576.82" r="3.4"/>
<circle cx="352.54" cy="577.09" r="3.4"/>
<circle cx="361.46" cy="576.82" r="3.4"/>
<circle cx="370.37" cy="572.8" r="3.4"/>
<circle cx="379.28" cy="568.52" r="3.4"/>
<circle cx="388.2" cy="564.23" r="3.4"/>
<circle cx="397.11" cy="559.14" r="3.4"/>
<circle cx="406.02" cy="552.18" r="3.4"/>
<circle cx="414.93" cy="546.29" r="3.4"/>
<circle cx="423.85" cy="538.25" r="3.4"/>
<circle cx="432.76" cy="530.21" r="3.4"/>
<circle cx="441.67" cy="521.64" r="3.4"/>
<circle cx="450.59" cy="513.07" r="3.4"/>
<path d="M254.5 592.62 L263.3 587 L272.2 583.25 L281.1 581.38 L290 580.04 L298.9 580.04 L307.8 580.84 L317 581.11 L325.9 581.38 L334.8 581.64 L343.7 581.11 L350 579.77 L355 577.09 L358.5 573.61 L363 571.2 L366.3 569.05 L370 565.3 L374 560.75 L377 558.07 L380.3 554.59 L384.5 551.64 L393.4 543.34 L402.3 534.5 L411.2 525.93 L420.1 518.96 L429 512.27 L438 505.04 L446.9 498.88 L455.8 491.64 L459.5 488.7" stroke="#111" stroke-width="1.1" fill="none" stroke-dasharray="5.6 3.8"/>
<path d="M254.5 592.62 L263.3 587.8 L272.2 585.66 L281.1 583.79 L290 582.71 L298.9 583.25 L307.8 584.32 L317 584.86 L325 585.93 L334.6 587 L341 588.07 L348 588.61 L358 589.41 L375.6 589.95 L393.4 589.68 L402.3 588.34 L411.2 586.2 L420.1 580.57 L429 574.41 L438 568.25 L446.9 561.02 L455.8 551.11 L459.5 548.16" stroke="#111" stroke-width="1.1" fill="none" stroke-dasharray="5.6 3.8"/>
<path d="M254.5 592.62 L263.3 587.27 L272.2 584.05 L281.1 582.18 L290 580.57 L298.9 580.57 L307.8 582.18 L317 584.05 L325.9 583.52 L334.8 585.12 L343.7 585.93 L352.6 586.2 L357.8 586.73 L366.7 584.32 L373.8 580.57 L381 578.16 L388.1 570.93 L397 562.89 L405.9 556.2 L414.8 548.7 L423.7 539.86 L432.6 531.02 L441.5 522.45 L450.4 513.88 L459.5 505.3" stroke="#ff0000" stroke-width="1.6" fill="none" stroke-linejoin="round"/>
</g>
<text x="259.8" y="460" font-size="11.67">2Gy+80 CEM<tspan dx="-0.4" dy="4.9" font-size="9.92">43</tspan></text>
<path d="M386.9 447.6 V458.3 M384.3 447.6 H389.5 M384.3 458.3 H389.5" stroke="#000" stroke-width="1" fill="none"/>
<circle cx="386.9" cy="453.2" r="2.5"/>
<path d="M375 467.8 H399" stroke="#ff0000" stroke-width="1.6"/>
<text x="401.3" y="458" font-size="10.3">Experiment</text>
<text x="401.3" y="471.6" font-size="10.3">Simulation</text>
<text x="272.33" y="648.4" font-size="11.3" text-anchor="middle">5</text>
<text x="316.89" y="648.4" font-size="11.3" text-anchor="middle">10</text>
<text x="361.46" y="648.4" font-size="11.3" text-anchor="middle">15</text>
<text x="406.02" y="648.4" font-size="11.3" text-anchor="middle">20</text>
<text x="450.59" y="648.4" font-size="11.3" text-anchor="middle">25</text>
<text x="357.7" y="666.1" font-size="12.6" text-anchor="middle" textLength="150" lengthAdjust="spacing">Time since seeding [Days]</text>
<rect x="254.5" y="444.5" width="205" height="187.5" fill="none" stroke="#707070" stroke-width="1"/>
<clipPath id="c8"><rect x="464" y="444" width="205.5" height="188.5"/></clipPath>
<path d="M481.5 632 V630 M481.5 444.5 V446.5 M526.5 632 V630 M526.5 444.5 V446.5 M571.5 632 V630 M571.5 444.5 V446.5 M615.5 632 V630 M615.5 444.5 V446.5 M660.5 632 V630 M660.5 444.5 V446.5 M464 605.5 H466 M669.5 605.5 H667.5 M464 578.5 H466 M669.5 578.5 H667.5 M464 551.5 H466 M669.5 551.5 H667.5 M464 524.5 H466 M669.5 524.5 H667.5 M464 498.5 H466 M669.5 498.5 H667.5 M464 471.5 H466 M669.5 471.5 H667.5" stroke="#707070" stroke-width="1" fill="none"/>
<g clip-path="url(#c8)">
<path d="M472.93 577.36 V587 M470.13 577.36 H475.73 M470.13 587 H475.73 M481.87 573.34 V581.91 M479.07 573.34 H484.67 M479.07 581.91 H484.67 M490.8 566.11 V574.68 M488 566.11 H493.6 M488 574.68 H493.6 M499.74 562.36 V570.93 M496.94 562.36 H502.54 M496.94 570.93 H502.54 M508.67 562.09 V569.59 M505.87 562.09 H511.47 M505.87 569.59 H511.47 M517.61 558.34 V565.84 M514.81 558.34 H520.41 M514.81 565.84 H520.41 M526.54 557.54 V565.04 M523.74 557.54 H529.34 M523.74 565.04 H529.34 M535.48 554.59 V562.09 M532.68 554.59 H538.28 M532.68 562.09 H538.28 M544.41 549.77 V556.73 M541.61 549.77 H547.21 M541.61 556.73 H547.21 M553.35 543.34 V550.3 M550.55 543.34 H556.15 M550.55 550.3 H556.15 M562.28 537.18 V544.14 M559.48 537.18 H565.08 M559.48 544.14 H565.08 M571.22 529.68 V536.11 M568.42 529.68 H574.02 M568.42 536.11 H574.02 M580.15 522.18 V528.61 M577.35 522.18 H582.95 M577.35 528.61 H582.95 M589.09 513.88 V520.3 M586.29 513.88 H591.89 M586.29 520.3 H591.89 M598.02 504.77 V511.2 M595.22 504.77 H600.82 M595.22 511.2 H600.82 M606.96 496.2 V502.62 M604.16 496.2 H609.76 M604.16 502.62 H609.76 M615.89 489.23 V495.66 M613.09 489.23 H618.69 M613.09 495.66 H618.69 M624.83 483.88 V490.3 M622.03 483.88 H627.63 M622.03 490.3 H627.63 M633.76 477.71 V484.14 M630.96 477.71 H636.56 M630.96 484.14 H636.56 M642.7 471.55 V477.98 M639.9 471.55 H645.5 M639.9 477.98 H645.5 M651.63 464.32 V471.82 M648.83 464.32 H654.43 M648.83 471.82 H654.43 M660.57 455.75 V464.32 M657.77 455.75 H663.37 M657.77 464.32 H663.37" stroke="#111" stroke-width="0.95" fill="none"/>
<circle cx="472.93" cy="582.18" r="3.4"/>
<circle cx="481.87" cy="577.62" r="3.4"/>
<circle cx="490.8" cy="570.39" r="3.4"/>
<circle cx="499.74" cy="566.64" r="3.4"/>
<circle cx="508.67" cy="565.84" r="3.4"/>
<circle cx="517.61" cy="562.09" r="3.4"/>
<circle cx="526.54" cy="561.29" r="3.4"/>
<circle cx="535.48" cy="558.34" r="3.4"/>
<circle cx="544.41" cy="553.25" r="3.4"/>
<circle cx="553.35" cy="546.82" r="3.4"/>
<circle cx="562.28" cy="540.66" r="3.4"/>
<circle cx="571.22" cy="532.89" r="3.4"/>
<circle cx="580.15" cy="525.39" r="3.4"/>
<circle cx="589.09" cy="517.09" r="3.4"/>
<circle cx="598.02" cy="507.98" r="3.4"/>
<circle cx="606.96" cy="499.41" r="3.4"/>
<circle cx="615.89" cy="492.45" r="3.4"/>
<circle cx="624.83" cy="487.09" r="3.4"/>
<circle cx="633.76" cy="480.93" r="3.4"/>
<circle cx="642.7" cy="474.77" r="3.4"/>
<circle cx="651.63" cy="468.07" r="3.4"/>
<circle cx="660.57" cy="460.04" r="3.4"/>
<path d="M464 592.36 L472.8 585.93 L481.5 581.91 L490.3 579.23 L499 577.09 L507.8 575.21 L516.6 573.34 L525.3 570.39 L534.1 565.84 L542.8 559.14 L551.6 550.3 L557.4 542.27 L563.5 535.04 L571.8 526.46 L579.5 519.5 L587.2 513.34 L595.5 507.45 L602.5 501.82 L612 495.66 L620 490.04 L628.5 484.14 L636.8 478.52 L645 473.96 L651.5 470.48 L660.7 465.93 L669.5 462.18" stroke="#111" stroke-width="1.1" fill="none" stroke-dasharray="5.6 3.8"/>
<path d="M464 592.89 L472.8 587.54 L481.5 584.05 L490.3 581.64 L499 579.77 L507.8 578.43 L516.6 577.09 L525.3 574.95 L534.1 570.93 L542.8 565.04 L551.6 556.73 L557.4 549.5 L565.9 542.54 L571.8 535.84 L577.7 529.41 L583.6 523.79 L590.7 518.96 L597.8 512.54 L604.9 506.64 L612 501.29 L619.1 496.46 L626.2 491.64 L633.3 486.55 L640 483.07 L651.5 476.38 L660.7 471.55 L669.5 467.54" stroke="#111" stroke-width="1.1" fill="none" stroke-dasharray="5.6 3.8"/>
<path d="M464 592.62 L472.8 586.46 L481.5 582.71 L490.3 580.04 L499 577.89 L507.8 576.02 L516.6 574.41 L525.3 572 L534.1 568.25 L542.8 562.36 L551.6 554.32 L557.4 547.09 L565.9 540.12 L571.8 533.43 L577.7 527 L583.6 521.38 L590.7 516.82 L597.8 510.39 L604.9 504.5 L612 499.14 L619.1 494.32 L626.2 489.5 L633.3 484.41 L640 481.2 L651.5 474.5 L660.7 469.68 L669.5 465.66" stroke="#ff0000" stroke-width="1.6" fill="none" stroke-linejoin="round"/>
</g>
<text x="469.8" y="460.3" font-size="11.67">2Gy+40 CEM<tspan dx="-0.4" dy="4.9" font-size="9.92">43</tspan></text>
<path d="M597.6 604.4 V615.1 M595 604.4 H600.2 M595 615.1 H600.2" stroke="#000" stroke-width="1" fill="none"/>
<circle cx="597.6" cy="609.6" r="2.5"/>
<path d="M585.8 623.7 H609.7" stroke="#ff0000" stroke-width="1.6"/>
<text x="612.2" y="614.1" font-size="10.3">Experiment</text>
<text x="612.2" y="627.7" font-size="10.3">Simulation</text>
<text x="481.87" y="648.4" font-size="11.3" text-anchor="middle">5</text>
<text x="526.54" y="648.4" font-size="11.3" text-anchor="middle">10</text>
<text x="571.22" y="648.4" font-size="11.3" text-anchor="middle">15</text>
<text x="615.89" y="648.4" font-size="11.3" text-anchor="middle">20</text>
<text x="660.57" y="648.4" font-size="11.3" text-anchor="middle">25</text>
<text x="567.45" y="666.1" font-size="12.6" text-anchor="middle" textLength="150" lengthAdjust="spacing">Time since seeding [Days]</text>
<rect x="464" y="444.5" width="205.5" height="187.5" fill="none" stroke="#707070" stroke-width="1"/>
<path d="M0 0.5 H685 M0.5 0 V677" stroke="#383838" stroke-width="1"/>
<path d="M1 1.5 H684 M1.5 1 V676" stroke="#202020" stroke-width="1"/>
<path d="M683.5 1 V676 M1 675.5 H684" stroke="#2c2c2c" stroke-width="1"/>
<path d="M684.5 0 V677 M0 676.5 H685" stroke="#141414" stroke-width="1"/>
</svg>
</body></html>
